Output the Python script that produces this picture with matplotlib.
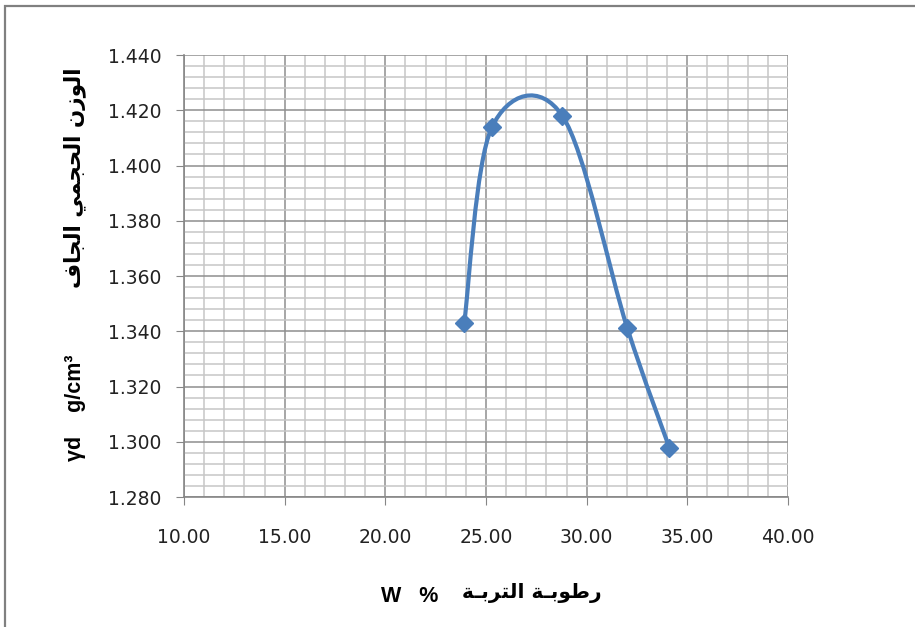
import matplotlib
matplotlib.use("Agg")
import matplotlib.pyplot as plt
from matplotlib.path import Path
from matplotlib.patches import PathPatch, Rectangle
from matplotlib.ticker import MultipleLocator, FormatStrFormatter
import numpy as np

# data
w_pct = [23.92, 25.29, 28.79, 32.02, 34.11]
gamma_d = [1.3431, 1.4138, 1.4180, 1.3411, 1.2978]

x_ticks = [10.0, 15.0, 20.0, 25.0, 30.0, 35.0, 40.0]
y_ticks = [1.28, 1.30, 1.32, 1.34, 1.36, 1.38, 1.40, 1.42, 1.44]

# Arabic labels in visual order with presentation forms (matplotlib does no shaping)
ylab_ar = ("\uFED1\uFE8E\uFEA0\uFEDF\uFE8D "
           "\uFEF2\uFEE4\uFEA0\uFEA4\uFEDF\uFE8D "
           "\uFEE5\uFEAF\uFEEE\uFEDF\uFE8D")          # الوزن الحجمي الجاف
ylab_unit = "\u03b3d    g/cm\u00b3"
xlab_ar = ("\uFE94\u0640\uFE91\uFEAE\uFE98\uFEDF\uFE8D "
           "\uFE94\u0640\uFE91\uFEEE\uFEC3\uFEAD")     # رطوبة التربة
xlab_unit = "W   %"

blue = "#4A7EBB"
fams = ["Liberation Sans", "DejaVu Sans"]

fig = plt.figure(figsize=(9.15, 6.27), dpi=100)
ax = fig.add_axes([184/915, 1-497/627, (788-184)/915, (497-55)/627])

# smoothed line like the spreadsheet's (cubic bezier through the points)
P = np.column_stack([w_pct, gamma_d])
n = len(P)
verts = [P[0]]
codes = [Path.MOVETO]
for i in range(n-1):
    prev = P[max(i-1, 0)]
    nxt = P[min(i+2, n-1)]
    c1 = P[i] + (P[i+1]-prev)/6
    c2 = P[i+1] - (nxt-P[i])/6
    verts += [c1, c2, P[i+1]]
    codes += [Path.CURVE4]*3
ax.add_patch(PathPatch(Path(verts, codes), facecolor="none", edgecolor=blue,
                       lw=3, zorder=3, capstyle="round", joinstyle="round"))
ax.plot(w_pct, gamma_d, ls="none", marker="D", ms=9.5, color=blue, zorder=4)

ax.set_xlim(x_ticks[0], x_ticks[-1])
ax.set_ylim(y_ticks[0], y_ticks[-1])
ax.set_xticks(x_ticks)
ax.set_yticks(y_ticks)
ax.xaxis.set_minor_locator(MultipleLocator(1.0))
ax.yaxis.set_minor_locator(MultipleLocator(0.004))
ax.xaxis.set_major_formatter(FormatStrFormatter("%.2f"))
ax.yaxis.set_major_formatter(FormatStrFormatter("%.3f"))

ax.grid(which="major", color="#8E8E8E", lw=1.1)
ax.grid(which="minor", color="#C6C6C6", lw=1.1)
ax.set_axisbelow(True)
for s in ["top", "right"]:
    ax.spines[s].set_visible(False)
for s in ["left", "bottom"]:
    ax.spines[s].set_color("#868686")
    ax.spines[s].set_linewidth(1.2)

ax.tick_params(which="major", direction="out", length=6, color="#868686",
               labelsize=13.5, labelcolor="#222222")
ax.tick_params(axis="x", pad=16)
ax.tick_params(axis="y", pad=10)
ax.tick_params(which="minor", length=0)

fig.text(75/915, 1-178/627, ylab_ar, rotation=90, ha="center", va="center",
         fontsize=15.5, fontweight="bold", family=["DejaVu Sans"])
fig.text(75/915, 1-408/627, ylab_unit, rotation=90, ha="center", va="center",
         fontsize=15.5, fontweight="bold", family=fams)
fig.text(410/915, 1-596/627, xlab_unit, ha="center", va="center",
         fontsize=15.5, fontweight="bold", family=fams)
fig.text(532/915, 1-593/627, xlab_ar, ha="center", va="center",
         fontsize=14.5, fontweight="bold", family=["DejaVu Sans"])

# chart frame (only top and left edges visible in the crop)
fig.add_artist(Rectangle((4.5/915, -0.1), 1.2, 1.1-6/627, transform=fig.transFigure,
                         fill=False, edgecolor="#808080", lw=1.6))

fig.savefig("out.png", dpi=100)
